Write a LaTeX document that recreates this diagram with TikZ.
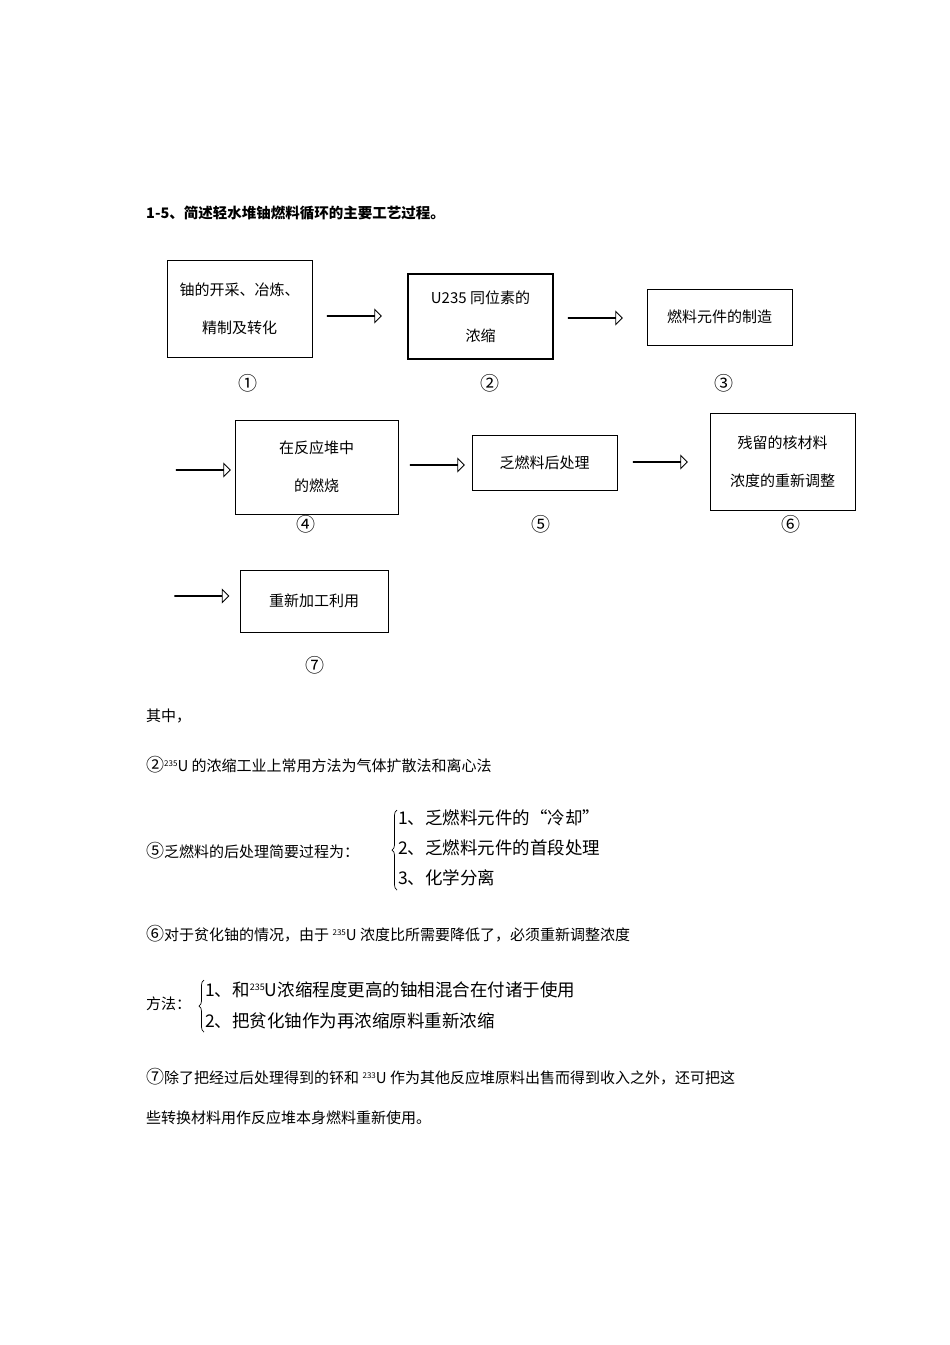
\documentclass[tikz,border=0pt]{standalone}
\usepackage{fontspec}
\setmainfont{Liberation Serif}
\newfontfamily\cjk{Noto Sans CJK SC}
\usetikzlibrary{shapes.arrows,decorations.pathreplacing}
\begin{document}
\begin{tikzpicture}[x=1pt,y=-1pt,
  box/.style={draw,line width=0.9pt,align=center,font=\cjk\fontsize{15}{38}\selectfont,inner sep=0pt},
  harrow/.style={draw,single arrow,line width=0.9pt,minimum height=54pt,minimum width=10pt,single arrow head extend=6pt,single arrow tip angle=90,inner sep=0pt,shape border rotate=0},
  num/.style={font=\cjk\fontsize{19}{19}\selectfont},
  txt/.style={anchor=west,font=\cjk\fontsize{15}{16}\selectfont,inner sep=0pt},
  big/.style={anchor=west,font=\cjk\fontsize{17.5}{20}\selectfont,inner sep=0pt}]
\useasboundingbox (0,0) rectangle (950,1345);
\node[txt,font=\cjk\bfseries\fontsize{14.5}{16}\selectfont] (title) at (146,213) {1-5、简述轻水堆铀燃料循环的主要工艺过程。};
% boxes
\node[box,minimum width=145pt,minimum height=97pt] (b1) at (239.5,308.5) {铀的开采、冶炼、\\精制及转化};
\node[box,line width=1.4pt,minimum width=145pt,minimum height=85pt] (b2) at (480.5,316.5) {U235 同位素的\\浓缩};
\node[box,minimum width=145pt,minimum height=56pt] (b3) at (719.5,317) {燃料元件的制造};
\node[box,minimum width=163pt,minimum height=94pt] (b4) at (316.5,467) {在反应堆中\\的燃烧};
\node[box,minimum width=145pt,minimum height=55pt] (b5) at (544.5,462.5) {乏燃料后处理};
\node[box,minimum width=145pt,minimum height=97pt] (b6) at (782.5,461.5) {残留的核材料\\浓度的重新调整};
\node[box,minimum width=148pt,minimum height=62pt] (b7) at (314,601) {重新加工利用};
% arrows
\node[harrow] (a12) at (354,316) {};
\node[harrow] (a23) at (595,318) {};
\node[harrow] (a34) at (203,470) {};
\node[harrow] (a45) at (437,465) {};
\node[harrow] (a56) at (660,462) {};
\node[harrow] (a67) at (201.5,596) {};
% numbers
\node[num] (n1) at (248,383) {①};
\node[num] (n2) at (490,383) {②};
\node[num] (n3) at (724,383) {③};
\node[num] (n4) at (306,524) {④};
\node[num] (n5) at (541,524) {⑤};
\node[num] (n6) at (791,524) {⑥};
\node[num] (n7) at (315,665) {⑦};
% text
\node[txt] (t0) at (146,716) {其中，};
\node[txt] (t2) at (146,765) {{\fontsize{18}{18}\selectfont ②}\raisebox{0.6ex}{\fontsize{8}{8}\selectfont 235}U 的浓缩工业上常用方法为气体扩散法和离心法};
\node[txt] (t5) at (146,851) {{\fontsize{18}{18}\selectfont ⑤}乏燃料的后处理简要过程为：};
\draw[decorate,decoration={brace,amplitude=5pt},line width=0.7pt] (397,890) -- (397,810);
\node[big] (i1) at (398,818) {1、乏燃料元件的“冷却”};
\node[big] (i2) at (398,848) {2、乏燃料元件的首段处理};
\node[big] (i3) at (398,878) {3、化学分离};
\node[txt] (t6) at (146,934) {{\fontsize{18}{18}\selectfont ⑥}对于贫化铀的情况，由于 \raisebox{0.6ex}{\fontsize{8}{8}\selectfont 235}U 浓度比所需要降低了，必须重新调整浓度};
\node[txt] (tm) at (146,1004) {方法：};
\draw[decorate,decoration={brace,amplitude=5pt},line width=0.7pt] (204,1032) -- (204,980);
\node[big] (m1) at (205,990) {1、和\raisebox{0.7ex}{\fontsize{9}{9}\selectfont 235}\textit{U}浓缩程度更高的铀相混合在付诸于使用};
\node[big] (m2) at (205,1021) {2、把贫化铀作为再浓缩原料重新浓缩};
\node[txt] (t7) at (146,1077) {{\fontsize{18}{18}\selectfont ⑦}除了把经过后处理得到的钚和 \raisebox{0.6ex}{\fontsize{8}{8}\selectfont 233}U 作为其他反应堆原料出售而得到收入之外，还可把这};
\node[txt] (t7b) at (146,1118) {些转换材料用作反应堆本身燃料重新使用。};
\end{tikzpicture}
\end{document}
